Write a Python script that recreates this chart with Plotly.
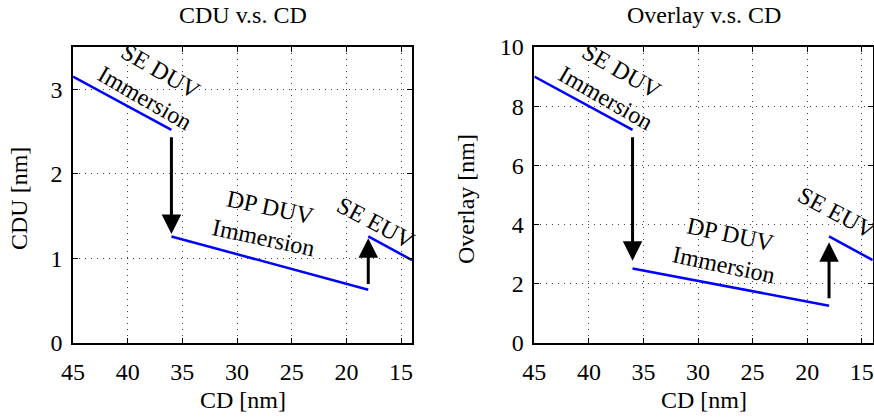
import plotly.graph_objects as go

# ---------------- data ----------------
cd_ticks = [45, 40, 35, 30, 25, 20, 15]
cdu_ticks = [0, 1, 2, 3]
ovl_ticks = [0, 2, 4, 6, 8, 10]

se_duv_cd = [45, 36]
dp_duv_cd = [36, 18]
se_euv_cd = [18, 14]

se_duv_cdu = [3.15, 2.52]
dp_duv_cdu = [1.26, 0.63]
se_euv_cdu = [1.26, 0.98]

se_duv_ovl = [9.0, 7.2]
dp_duv_ovl = [2.52, 1.26]
se_euv_ovl = [3.6, 2.8]

# arrows: (cd, from_value, to_value)
cdu_arrows = [(36, 2.45, 1.29), (18, 0.68, 1.24)]
ovl_arrows = [(36, 7.0, 2.78), (18, 1.46, 3.40)]

# labels: (text, cd, value, angle)
cdu_labels = [("SE DUV<br>Immersion", 37.7, 3.06, 30),
              ("DP DUV<br>Immersion", 27.25, 1.43, 12),
              ("SE EUV", 17.3, 1.42, 28)]
ovl_labels = [("SE DUV<br>Immersion", 37.7, 8.75, 30),
              ("DP DUV<br>Immersion", 27.35, 3.15, 12),
              ("SE EUV", 17.25, 4.40, 28)]

FONT = "Liberation Serif"
FS = 24
W, H = 874, 420

fig = go.Figure()

def seg(x, y, xa, ya):
    fig.add_trace(go.Scatter(x=x, y=y, mode="lines", xaxis=xa, yaxis=ya,
                             line=dict(color="#0000ff", width=2.5),
                             showlegend=False, hoverinfo="skip"))

for x, y in [(se_duv_cd, se_duv_cdu), (dp_duv_cd, dp_duv_cdu), (se_euv_cd, se_euv_cdu)]:
    seg(x, y, "x", "y")
for x, y in [(se_duv_cd, se_duv_ovl), (dp_duv_cd, dp_duv_ovl), (se_euv_cd, se_euv_ovl)]:
    seg(x, y, "x2", "y2")

annots = []
for xa, ya, arrows, labels in [("x", "y", cdu_arrows, cdu_labels),
                               ("x2", "y2", ovl_arrows, ovl_labels)]:
    for cx, y0, y1 in arrows:
        annots.append(dict(x=cx, y=y1, ax=cx, ay=y0, xref=xa, yref=ya,
                           axref=xa, ayref=ya, text="", showarrow=True,
                           arrowhead=2, arrowsize=1.3, arrowwidth=3,
                           arrowcolor="black"))
    for t, cx, cy, ang in labels:
        annots.append(dict(x=cx, y=cy, xref=xa, yref=ya, text=t,
                           showarrow=False, textangle=ang,
                           font=dict(family=FONT, size=FS, color="black")))

# titles / axis titles in pixel positions converted to paper
def px(xp): return xp / W
def py(yp): return 1 - yp / H

for t, xc, yc, ang in [("CDU v.s. CD", 242.5, 15, 0),
                       ("Overlay v.s. CD", 703.5, 15, 0),
                       ("CD [nm]", 242.5, 400, 0),
                       ("CD [nm]", 703.5, 400, 0),
                       ("CDU [nm]", 19, 199, -90),
                       ("Overlay [nm]", 466, 199, -90)]:
    annots.append(dict(x=px(xc), y=py(yc), xref="paper", yref="paper",
                       text=t, showarrow=False, textangle=ang,
                       xanchor="center", yanchor="middle",
                       font=dict(family=FONT, size=FS, color="black")))

common = dict(showline=True, linecolor="black", linewidth=1.5, mirror="ticks",
              ticks="inside", ticklen=5, tickwidth=1.2, tickcolor="black",
              showgrid=True, gridcolor="#444", gridwidth=1, griddash="1px,5px",
              zeroline=False, automargin=False,
              tickfont=dict(family=FONT, size=FS, color="black"))

ydom = [py(343), py(47)]
fig.update_layout(
    width=W, height=H, margin=dict(l=0, r=0, t=0, b=0, autoexpand=False),
    paper_bgcolor="white", plot_bgcolor="white", showlegend=False,
    xaxis=dict(domain=[px(73), px(412)], range=[45, 14], tickvals=cd_ticks,
               anchor="y", ticklabelstandoff=6, **common),
    yaxis=dict(domain=ydom, range=[0, 3.5], tickvals=cdu_ticks,
               anchor="x", ticklabelstandoff=4, **common),
    xaxis2=dict(domain=[px(534.3), px(872.7)], range=[45, 14], tickvals=cd_ticks,
                anchor="y2", ticklabelstandoff=6, **common),
    yaxis2=dict(domain=ydom, range=[0, 10], tickvals=ovl_ticks,
                anchor="x2", ticklabelstandoff=4, **common),
    annotations=annots,
)

fig.write_html("out.html", config={"displayModeBar": False},
               post_script="document.body.style.margin='0';document.body.style.overflow='hidden';")
